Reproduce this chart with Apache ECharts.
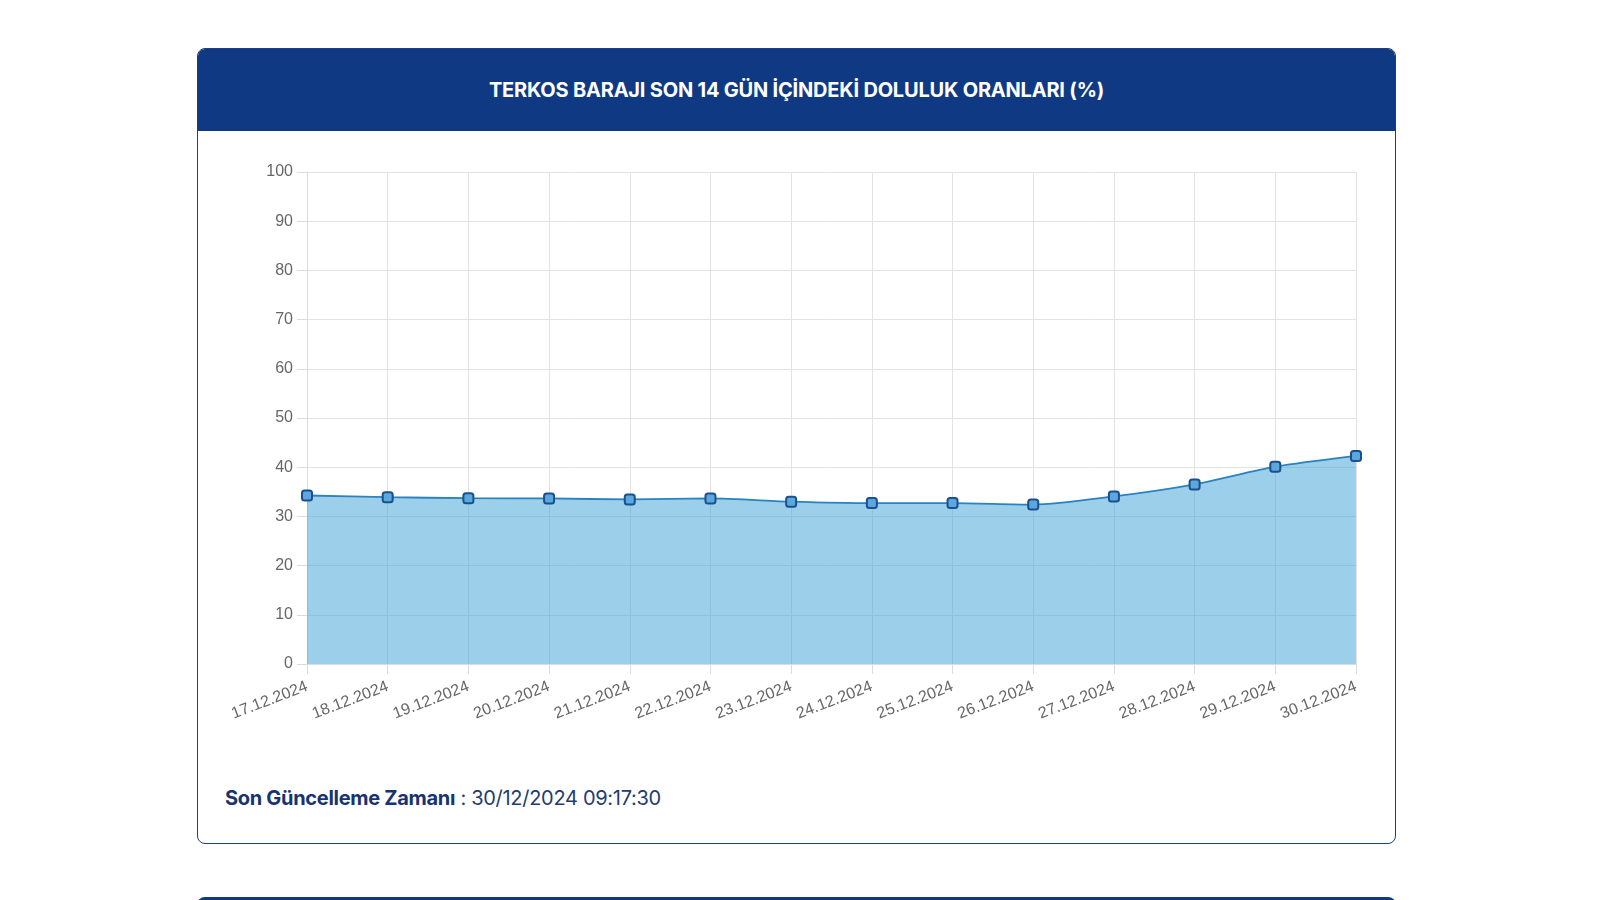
<!DOCTYPE html>
<html>
<head>
<meta charset="utf-8">
<script src="https://cdn.jsdelivr.net/npm/echarts@6/dist/echarts.min.js"></script>
<style>
  html, body { margin: 0; padding: 0; background: #fff; }
  body { width: 1600px; height: 900px; position: relative; overflow: hidden; font-family: Inter, "Noto Sans", sans-serif; }
  .card {
    position: absolute; left: 197px; top: 48px; width: 1197px; height: 794px;
    border: 1px solid #1d3f80; border-radius: 8px; overflow: hidden; background: #fff;
  }
  .card-head {
    height: 82px; background: #0f3a83; color: #fff;
    display: flex; align-items: center; justify-content: center;
    font-weight: 700; font-size: 20px; letter-spacing: -0.2px;
  }
  #chart { position: absolute; left: 0; top: 82px; width: 1197px; height: 640px; }
  .foot {
    position: absolute; left: 27px; top: 737px; font-size: 20px; color: #243c6c; letter-spacing: -0.3px;
  }
  .foot b { font-weight: 700; color: #173470; }
  .next {
    position: absolute; left: 197px; top: 897px; width: 1199px; height: 20px;
    border-top: 3px solid #0f3a83; border-radius: 8px 8px 0 0;
  }
</style>
</head>
<body>
<div class="card">
  <div class="card-head">TERKOS BARAJI SON 14 GÜN İÇİNDEKİ DOLULUK ORANLARI (%)</div>
  <div id="chart"></div>
  <div class="foot"><b>Son Güncelleme Zamanı</b> : 30/12/2024 09:17:30</div>
</div>
<div class="next"></div>
<script>
  // Tarihler ve doluluk oranları
  const tarihler = ['17.12.2024', '18.12.2024', '19.12.2024', '20.12.2024', '21.12.2024', '22.12.2024', '23.12.2024',
    '24.12.2024', '25.12.2024', '26.12.2024', '27.12.2024', '28.12.2024', '29.12.2024', '30.12.2024'];
  const doluluk = [34.25, 33.9, 33.7, 33.65, 33.45, 33.65, 33.0, 32.7, 32.7, 32.4, 34.05, 36.5, 40.1, 42.3];
  const yTicks = [0, 10, 20, 30, 40, 50, 60, 70, 80, 90, 100];

  const myChart = echarts.init(document.getElementById('chart'));

  const option = {
    animation: false,
    grid: { left: 109, right: 39, top: 41, bottom: 107 },
    xAxis: {
      type: 'category',
      data: tarihler,
      boundaryGap: false,
      axisLine: { show: true, lineStyle: { color: '#dcdcdc', width: 1 } },
      axisTick: { show: true, length: 10, lineStyle: { color: '#dcdcdc' } },
      splitLine: { show: true, lineStyle: { color: '#e3e3e3', width: 1 } },
      axisLabel: {
        rotate: 21, margin: 22, fontSize: 16, color: '#666',
        fontFamily: '"Liberation Sans", Arial, sans-serif', interval: 0
      }
    },
    yAxis: {
      type: 'value',
      min: yTicks[0],
      max: yTicks[yTicks.length - 1],
      interval: 10,
      axisLine: { show: true, lineStyle: { color: '#dcdcdc', width: 1 } },
      axisTick: { show: true, length: 10, lineStyle: { color: '#dcdcdc' } },
      splitLine: { show: true, lineStyle: { color: '#e3e3e3', width: 1 } },
      axisLabel: {
        margin: 14, fontSize: 16, color: '#666',
        fontFamily: '"Liberation Sans", Arial, sans-serif'
      }
    },
    series: [
      {
        type: 'line',
        data: doluluk,
        smooth: 0.25,
        symbol: 'roundRect',
        symbolSize: 10,
        lineStyle: { color: '#2a82c0', width: 1.8 },
        itemStyle: { color: '#5aa8dc', borderColor: '#1c4f8f', borderWidth: 2 },
        areaStyle: { color: 'rgba(57,159,213,0.5)', opacity: 1 }
      }
    ]
  };

  myChart.setOption(option);
</script>
</body>
</html>
